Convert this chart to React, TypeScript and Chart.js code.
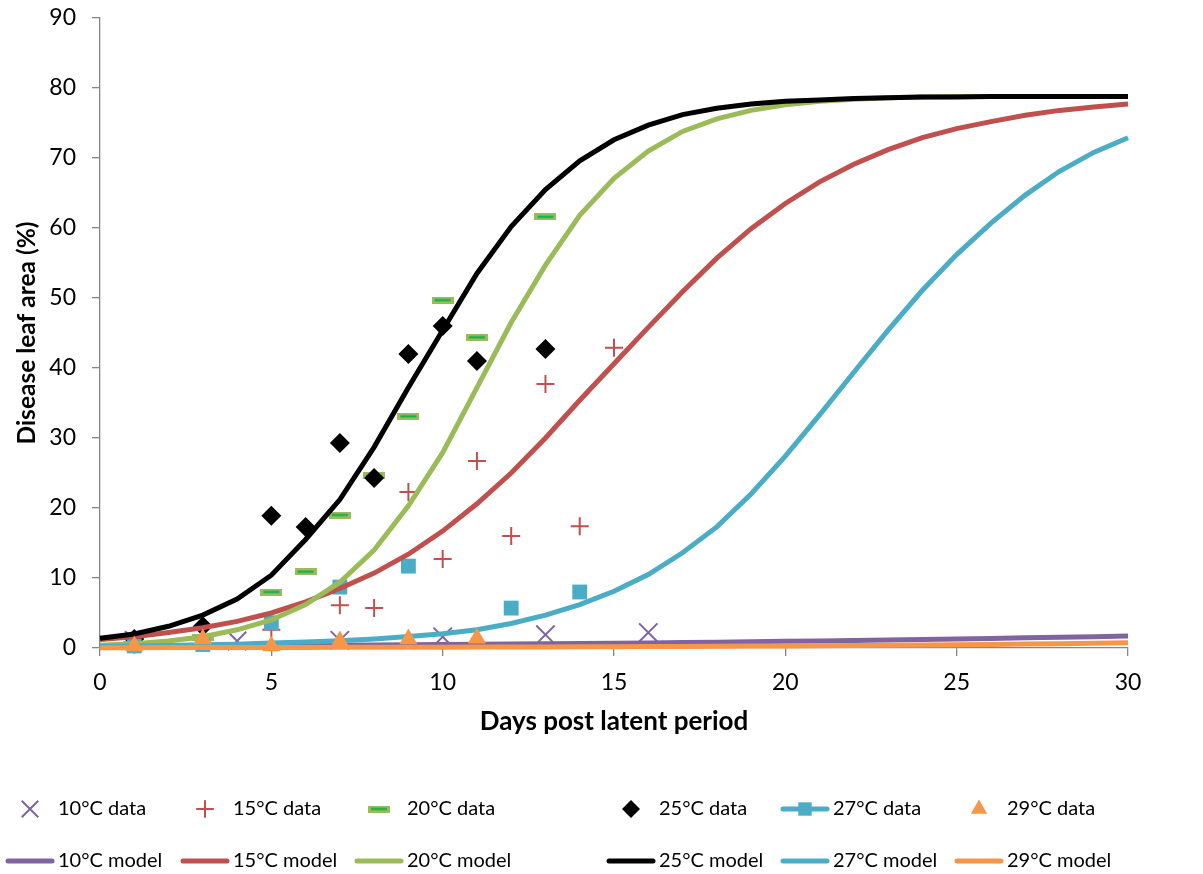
import React, { useEffect, useRef } from "react";
import { Chart, registerables } from "chart.js";
import { drawPoint } from "chart.js/helpers";

Chart.register(...registerables);

const FONT = "Lato, 'Open Sans', sans-serif";

// ---- Data ----
const modelDays = [0, 1, 2, 3, 4, 5, 6, 7, 8, 9, 10, 11, 12, 13, 14, 15, 16, 17, 18, 19, 20, 21, 22, 23, 24, 25, 26, 27, 28, 29, 30];
const model10 = [0.25, 0.27, 0.29, 0.31, 0.33, 0.36, 0.38, 0.41, 0.44, 0.47, 0.5, 0.53, 0.57, 0.6, 0.64, 0.69, 0.73, 0.78, 0.83, 0.89, 0.95, 1.01, 1.07, 1.14, 1.21, 1.29, 1.37, 1.45, 1.53, 1.61, 1.7];
const model15 = [1.2, 1.6, 2.2, 2.9, 3.8, 5.0, 6.6, 8.5, 10.7, 13.4, 16.7, 20.6, 25.0, 30.0, 35.4, 40.6, 45.8, 50.9, 55.7, 59.9, 63.5, 66.6, 69.1, 71.2, 72.9, 74.2, 75.2, 76.1, 76.8, 77.3, 77.7];
const model20 = [0.4, 0.6, 1.0, 1.6, 2.6, 4.0, 6.2, 9.4, 14.0, 20.3, 27.9, 37.2, 46.5, 54.7, 61.8, 67.1, 71.0, 73.8, 75.6, 76.8, 77.6, 78.1, 78.4, 78.6, 78.7, 78.8, 78.8, 78.8, 78.8, 78.8, 78.8];
const model25 = [1.4, 2.0, 3.1, 4.7, 7.0, 10.4, 15.5, 21.2, 28.7, 37.2, 45.4, 53.5, 60.2, 65.5, 69.6, 72.6, 74.7, 76.2, 77.1, 77.7, 78.1, 78.3, 78.5, 78.6, 78.7, 78.7, 78.8, 78.8, 78.8, 78.8, 78.8];
const model27 = [0.2, 0.3, 0.35, 0.45, 0.55, 0.7, 0.85, 1.05, 1.3, 1.65, 2.05, 2.6, 3.5, 4.7, 6.2, 8.1, 10.5, 13.6, 17.3, 22.0, 27.4, 33.3, 39.4, 45.4, 51.1, 56.2, 60.7, 64.7, 68.1, 70.8, 72.9];
const model29 = [0.05, 0.05, 0.06, 0.06, 0.07, 0.08, 0.08, 0.09, 0.1, 0.11, 0.12, 0.13, 0.14, 0.16, 0.17, 0.19, 0.2, 0.22, 0.25, 0.27, 0.3, 0.32, 0.35, 0.39, 0.43, 0.47, 0.51, 0.56, 0.62, 0.68, 0.75];

const days10 = [1, 4, 7, 10, 13, 16];
const data10 = [1.1, 1.0, 1.1, 1.6, 1.9, 2.2];
const days15 = [1, 3, 5, 7, 8, 9, 10, 11, 12, 13, 14, 15];
const data15 = [0.5, 1.1, 2.6, 6.1, 5.7, 22.3, 12.7, 26.7, 16.0, 37.7, 17.4, 42.9];
const days20 = [1, 3, 5, 6, 7, 8, 9, 10, 11, 13];
const data20 = [0.5, 1.5, 8.0, 10.9, 19.0, 24.6, 33.1, 49.7, 44.4, 61.6];
const days25 = [1, 3, 5, 6, 7, 8, 9, 10, 11, 13];
const data25 = [1.3, 3.1, 18.9, 17.3, 29.3, 24.3, 42.0, 46.0, 41.0, 42.7];
const days27 = [1, 3, 5, 7, 9, 12, 14];
const data27 = [0.3, 0.5, 3.6, 8.7, 11.7, 5.7, 8.0];
const days29 = [1, 3, 5, 7, 9, 11];
const data29 = [0.3, 1.3, 0.3, 1.0, 1.3, 1.4];

const xTicks = [0, 5, 10, 15, 20, 25, 30];
const yTicks = [0, 10, 20, 30, 40, 50, 60, 70, 80, 90];

const labels = ["10°C", "15°C", "20°C", "25°C", "27°C", "29°C"];

// ---- Styles ----
const PURPLE = "#8064A2";
const RED = "#C0504D";
const GREEN = "#9BBB59";
const BLACK = "#000000";
const CYAN = "#4BACC6";
const ORANGE = "#F79646";
const AXIS = "#868686";

function makeDash(): HTMLCanvasElement {
  const c = document.createElement("canvas");
  c.width = 22;
  c.height = 7;
  const g = c.getContext("2d")!;
  g.fillStyle = GREEN;
  g.fillRect(0, 0, 22, 7);
  g.fillStyle = "#00B050";
  g.fillRect(3, 2.5, 16, 2);
  return c;
}

const pts = (xs: number[], ys: number[]) => xs.map((x, i) => ({ x, y: ys[i] }));

export default function App() {
  const ref = useRef<HTMLCanvasElement>(null);

  useEffect(() => {
    const dash = makeDash();
    const markerDefs = [
      { style: "crossRot", r: 13, color: PURPLE, fill: PURPLE, bw: 2 },
      { style: "cross", r: 9, color: RED, fill: RED, bw: 2 },
      { style: dash as any, r: 10, color: GREEN, fill: GREEN, bw: 0 },
      { style: "rectRot", r: 10, color: BLACK, fill: BLACK, bw: 0 },
      { style: "rect", r: 10.5, color: CYAN, fill: CYAN, bw: 0 },
      { style: "triangle", r: 10.5, color: ORANGE, fill: ORANGE, bw: 0 },
    ];
    const lineColors = [PURPLE, RED, GREEN, BLACK, CYAN, ORANGE];
    const dataDays = [days10, days15, days20, days25, days27, days29];
    const dataVals = [data10, data15, data20, data25, data27, data29];
    const models = [model10, model15, model20, model25, model27, model29];

    const datasets: any[] = [];
    markerDefs.forEach((m, i) => {
      datasets.push({
        label: labels[i] + " data",
        data: pts(dataDays[i], dataVals[i]),
        showLine: false,
        pointStyle: m.style,
        pointRadius: m.r,
        pointBackgroundColor: m.fill,
        pointBorderColor: m.color,
        pointBorderWidth: m.bw,
        clip: false,
        order: i === 5 ? 0 : 20 - i,
      });
    });
    lineColors.forEach((c, i) => {
      datasets.push({
        label: labels[i] + " model",
        data: pts(modelDays, models[i]),
        showLine: true,
        borderColor: c,
        backgroundColor: c,
        borderWidth: 5,
        pointRadius: 0,
        tension: 0,
        clip: false,
        order: 10 - i,
      });
    });

    const legendPlugin = {
      id: "customLegend",
      afterDraw(chart: any) {
        const ctx = chart.ctx as CanvasRenderingContext2D;
        const textX = [58, 233, 407, 659, 833, 1007];
        const row1 = 809;
        const row2 = 861;
        ctx.save();
        ctx.font = `20px ${FONT}`;
        ctx.textBaseline = "middle";
        ctx.textAlign = "left";
        for (let i = 0; i < 6; i++) {
          const tx = textX[i];
          const cx = tx - 28;
          const m = markerDefs[i];
          if (i === 4) {
            ctx.strokeStyle = CYAN;
            ctx.lineWidth = 5;
            ctx.lineCap = "round";
            ctx.beginPath();
            ctx.moveTo(tx - 50, row1);
            ctx.lineTo(tx - 6, row1);
            ctx.stroke();
          }
          ctx.fillStyle = m.fill;
          ctx.strokeStyle = m.color;
          ctx.lineWidth = m.bw;
          drawPoint(ctx, { pointStyle: m.style, radius: m.r * 0.9, rotation: 0, borderWidth: m.bw } as any, cx, row1);
          ctx.fillStyle = "#000";
          ctx.fillText(labels[i] + " data", tx, row1);
          ctx.strokeStyle = lineColors[i];
          ctx.lineWidth = 5;
          ctx.lineCap = "round";
          ctx.beginPath();
          ctx.moveTo(tx - 50, row2);
          ctx.lineTo(tx - 6, row2);
          ctx.stroke();
          ctx.fillStyle = "#000";
          ctx.fillText(labels[i] + " model", tx, row2);
        }
        ctx.restore();
      },
    };

    const chart = new Chart(ref.current!, {
      type: "scatter",
      data: { datasets },
      options: {
        responsive: false,
        animation: false,
        events: [],
        layout: { padding: { left: 0, right: 75, top: 18, bottom: 137 } },
        plugins: { legend: { display: false }, tooltip: { enabled: false } },
        scales: {
          x: {
            type: "linear",
            min: 0,
            max: 30,
            afterBuildTicks: (s: any) => {
              s.ticks = xTicks.map((v) => ({ value: v }));
            },
            afterFit: (s: any) => {
              s.height = 89;
              s.paddingLeft = 0;
              s.paddingRight = 0;
            },
            ticks: { color: "#000", font: { family: FONT, size: 23 }, padding: 13 },
            grid: { display: true, drawOnChartArea: false, drawTicks: true, tickLength: 8, color: AXIS, lineWidth: 1.3 },
            border: { display: true, color: AXIS, width: 1.3 },
            title: {
              display: true,
              text: "Days post latent period",
              color: "#000",
              font: { family: FONT, size: 26, weight: "bold" },
              padding: { top: 0, bottom: 0 },
            },
          },
          y: {
            type: "linear",
            min: 0,
            max: 90,
            afterBuildTicks: (s: any) => {
              s.ticks = yTicks.map((v) => ({ value: v }));
            },
            afterFit: (s: any) => {
              s.width = 100;
              s.paddingTop = 0;
              s.paddingBottom = 0;
            },
            ticks: { color: "#000", font: { family: FONT, size: 23 }, padding: 16 },
            grid: { display: true, drawOnChartArea: false, drawTicks: true, tickLength: 8, color: AXIS, lineWidth: 1.3 },
            border: { display: true, color: AXIS, width: 1.3 },
            title: {
              display: true,
              text: "Disease leaf area (%)",
              color: "#000",
              font: { family: FONT, size: 24.5, weight: "bold" },
              padding: { top: 12, bottom: 0 },
            },
          },
        },
      },
      plugins: [legendPlugin],
    });
    return () => chart.destroy();
  }, []);

  return (
    <div style={{ position: "absolute", left: 0, top: 0, width: 1203, height: 874, background: "#fff" }}>
      <canvas ref={ref} width={1203} height={874} style={{ width: 1203, height: 874, display: "block" }} />
    </div>
  );
}
